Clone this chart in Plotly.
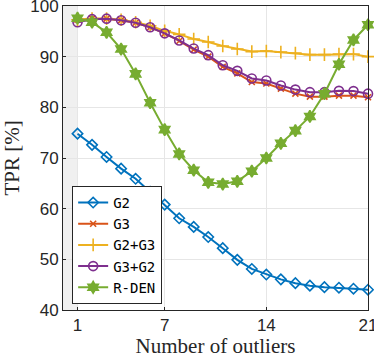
import plotly.graph_objects as go

x_vals = list(range(1, 22))
g2 = [74.8, 72.6, 70.2, 67.9, 65.9, 63.3, 60.8, 58.1, 56.4, 54.4, 52.2, 49.9, 48.1, 47.0, 46.05, 45.3, 44.8, 44.5, 44.4, 44.2, 44.0]
g3 = [97.3, 97.5, 97.5, 97.2, 96.7, 95.8, 94.6, 93.1, 91.4, 90.0, 88.0, 86.7, 85.0, 84.7, 83.7, 82.7, 82.1, 82.1, 82.3, 82.3, 82.0]
g2g3 = [97.3, 97.5, 97.5, 97.3, 96.8, 96.1, 95.1, 94.4, 93.5, 92.9, 92.1, 91.5, 91.0, 91.1, 90.9, 90.7, 90.4, 90.4, 90.5, 90.5, 90.0]
g3g2 = [96.8, 97.4, 97.5, 97.2, 96.7, 95.8, 94.6, 93.2, 91.6, 90.3, 88.3, 87.2, 85.7, 85.3, 84.3, 83.5, 83.0, 83.0, 83.25, 83.2, 82.7]
rden = [97.6, 96.8, 94.8, 91.5, 86.6, 80.9, 75.6, 70.8, 67.6, 65.2, 64.85, 65.4, 67.4, 70.0, 72.9, 75.4, 78.2, 82.7, 88.5, 93.3, 96.3]

names = ["G2", "G3", "G2+G3", "G3+G2", "R-DEN"]
colors = ["#0072BD", "#D95319", "#EDB120", "#7E2F8E", "#77AC30"]
symbols = ["diamond-open", "x-thin", "cross-thin", "circle-open", "hexagram"]
sizes = [8, 6, 9, 9, 9]
series = [g2, g3, g2g3, g3g2, rden]

x_ticks = [1, 7, 14, 21]
y_ticks = [40, 50, 60, 70, 80, 90, 100]

fig = go.Figure()
for name, col, sym, sz, ys in zip(names, colors, symbols, sizes, series):
    fig.add_trace(go.Scatter(
        x=x_vals, y=ys, name=name, mode="lines+markers",
        line=dict(color=col, width=2),
        marker=dict(symbol=sym, size=sz, color=col,
                    line=dict(color=col, width=1.6)),
        cliponaxis=False,
    ))

fig.add_shape(type="rect", x0=0, x1=1, y0=40, y1=100, xref="x", yref="y",
              fillcolor="#f0f0f0", line=dict(width=0), layer="below")

axis_common = dict(showline=True, linecolor="#262626", linewidth=1, mirror=True,
                   showgrid=True, gridcolor="#e6e6e6", gridwidth=1, zeroline=False,
                   ticks="inside", ticklen=3, tickcolor="#262626",
                   automargin=False, ticklabeloverflow="allow",
                   tickfont=dict(family="Liberation Sans, Arial", size=17, color="#262626"))

fig.update_xaxes(range=[0, 21], tickvals=x_ticks, ticktext=[str(v) for v in x_ticks],
                 title=dict(text="Number of outliers", standoff=0,
                            font=dict(family="Liberation Serif, serif", size=21, color="#262626")),
                 **axis_common)
fig.update_yaxes(range=[40, 100], tickvals=y_ticks, ticktext=[str(v) for v in y_ticks],
                 title=dict(text="TPR [%]", standoff=10,
                            font=dict(family="Liberation Serif, serif", size=21, color="#262626")),
                 **axis_common)

fig.update_layout(
    width=374, height=358,
    margin=dict(l=63, r=6, t=6, b=48),
    plot_bgcolor="white", paper_bgcolor="white",
    showlegend=True,
    legend=dict(x=0.03, y=0.02, xanchor="left", yanchor="bottom",
                bgcolor="white", bordercolor="#262626", borderwidth=1,
                font=dict(family="DejaVu Sans Mono, monospace", size=14, color="black"),
                tracegroupgap=0, itemwidth=30),
)

fig.write_html("out.html", config={"displayModeBar": False},
               post_script="document.body.style.margin='0';document.body.style.padding='0';")
